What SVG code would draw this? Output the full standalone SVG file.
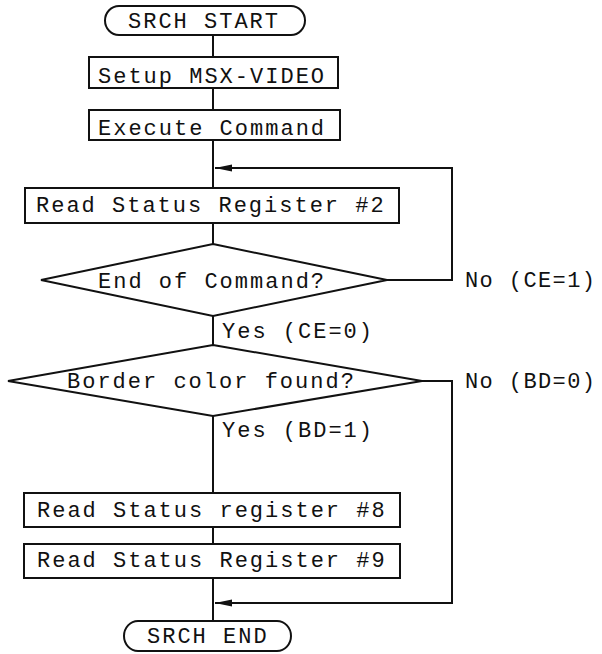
<svg xmlns="http://www.w3.org/2000/svg" width="602" height="654" viewBox="0 0 602 654">
<defs>
<style>
.s{fill:#fff;stroke:#111;stroke-width:2}
.c{fill:none;stroke:#111;stroke-width:2}
text{font-family:"Liberation Mono","DejaVu Sans Mono",monospace;font-size:22px;letter-spacing:2px;fill:#111}
.n{letter-spacing:1.4px}
</style>
<marker id="ah" markerWidth="18" markerHeight="10" refX="17" refY="5" orient="auto" markerUnits="userSpaceOnUse">
<path d="M0,1.5 L17,5 L0,8.5 Z" fill="#111"/>
</marker>
</defs>
<rect width="602" height="654" fill="#fff"/>
<g id="connectors">
<line class="c" x1="213" y1="35" x2="213" y2="57"/>
<line class="c" x1="213" y1="88" x2="213" y2="110"/>
<line class="c" x1="213" y1="140" x2="213" y2="188"/>
<line class="c" x1="213" y1="223" x2="213" y2="244"/>
<line class="c" x1="213" y1="316" x2="213" y2="345"/>
<line class="c" x1="213" y1="416" x2="213" y2="493"/>
<line class="c" x1="213" y1="527" x2="213" y2="544"/>
<line class="c" x1="213" y1="578" x2="213" y2="621"/>
<polyline class="c" points="387,280 452,280 452,168 215,168" marker-end="url(#ah)"/>
<polyline class="c" points="422,381 452,381 452,603 215,603" marker-end="url(#ah)"/>
<text class="n" x="465" y="287">No (CE=1)</text>
<text x="222" y="338">Yes (CE=0)</text>
<text class="n" x="465" y="388">No (BD=0)</text>
<text x="222" y="437">Yes (BD=1)</text>
</g>
<g id="start">
<path class="s" d="M119,6 H291 A14,14.5 0 0 1 291,35 H119 A14,14.5 0 0 1 119,6 Z"/>
<text x="128" y="28">SRCH START</text>
</g>
<g id="setup">
<rect class="s" x="89" y="57" width="249" height="31"/>
<text x="98" y="83">Setup MSX-VIDEO</text>
</g>
<g id="execute">
<rect class="s" x="89" y="110" width="251" height="30"/>
<text x="98" y="135">Execute Command</text>
</g>
<g id="rsr2">
<rect class="s" x="25" y="188" width="374" height="35"/>
<text x="36" y="212">Read Status Register #2</text>
</g>
<g id="endcmd">
<polygon class="s" points="213,244 387,280 213,316 41,280"/>
<text x="98" y="288">End of Command?</text>
</g>
<g id="border">
<polygon class="s" points="213,345 422,381 213,416 8,381"/>
<text x="67" y="388">Border color found?</text>
</g>
<g id="rsr8">
<rect class="s" x="24" y="493" width="376" height="34"/>
<text x="37" y="517">Read Status register #8</text>
</g>
<g id="rsr9">
<rect class="s" x="24" y="544" width="376" height="34"/>
<text x="37" y="567">Read Status Register #9</text>
</g>
<g id="end">
<path class="s" d="M138,621 H277 A14,15 0 0 1 277,651 H138 A14,15 0 0 1 138,621 Z"/>
<text x="147" y="643">SRCH END</text>
</g>
</svg>
